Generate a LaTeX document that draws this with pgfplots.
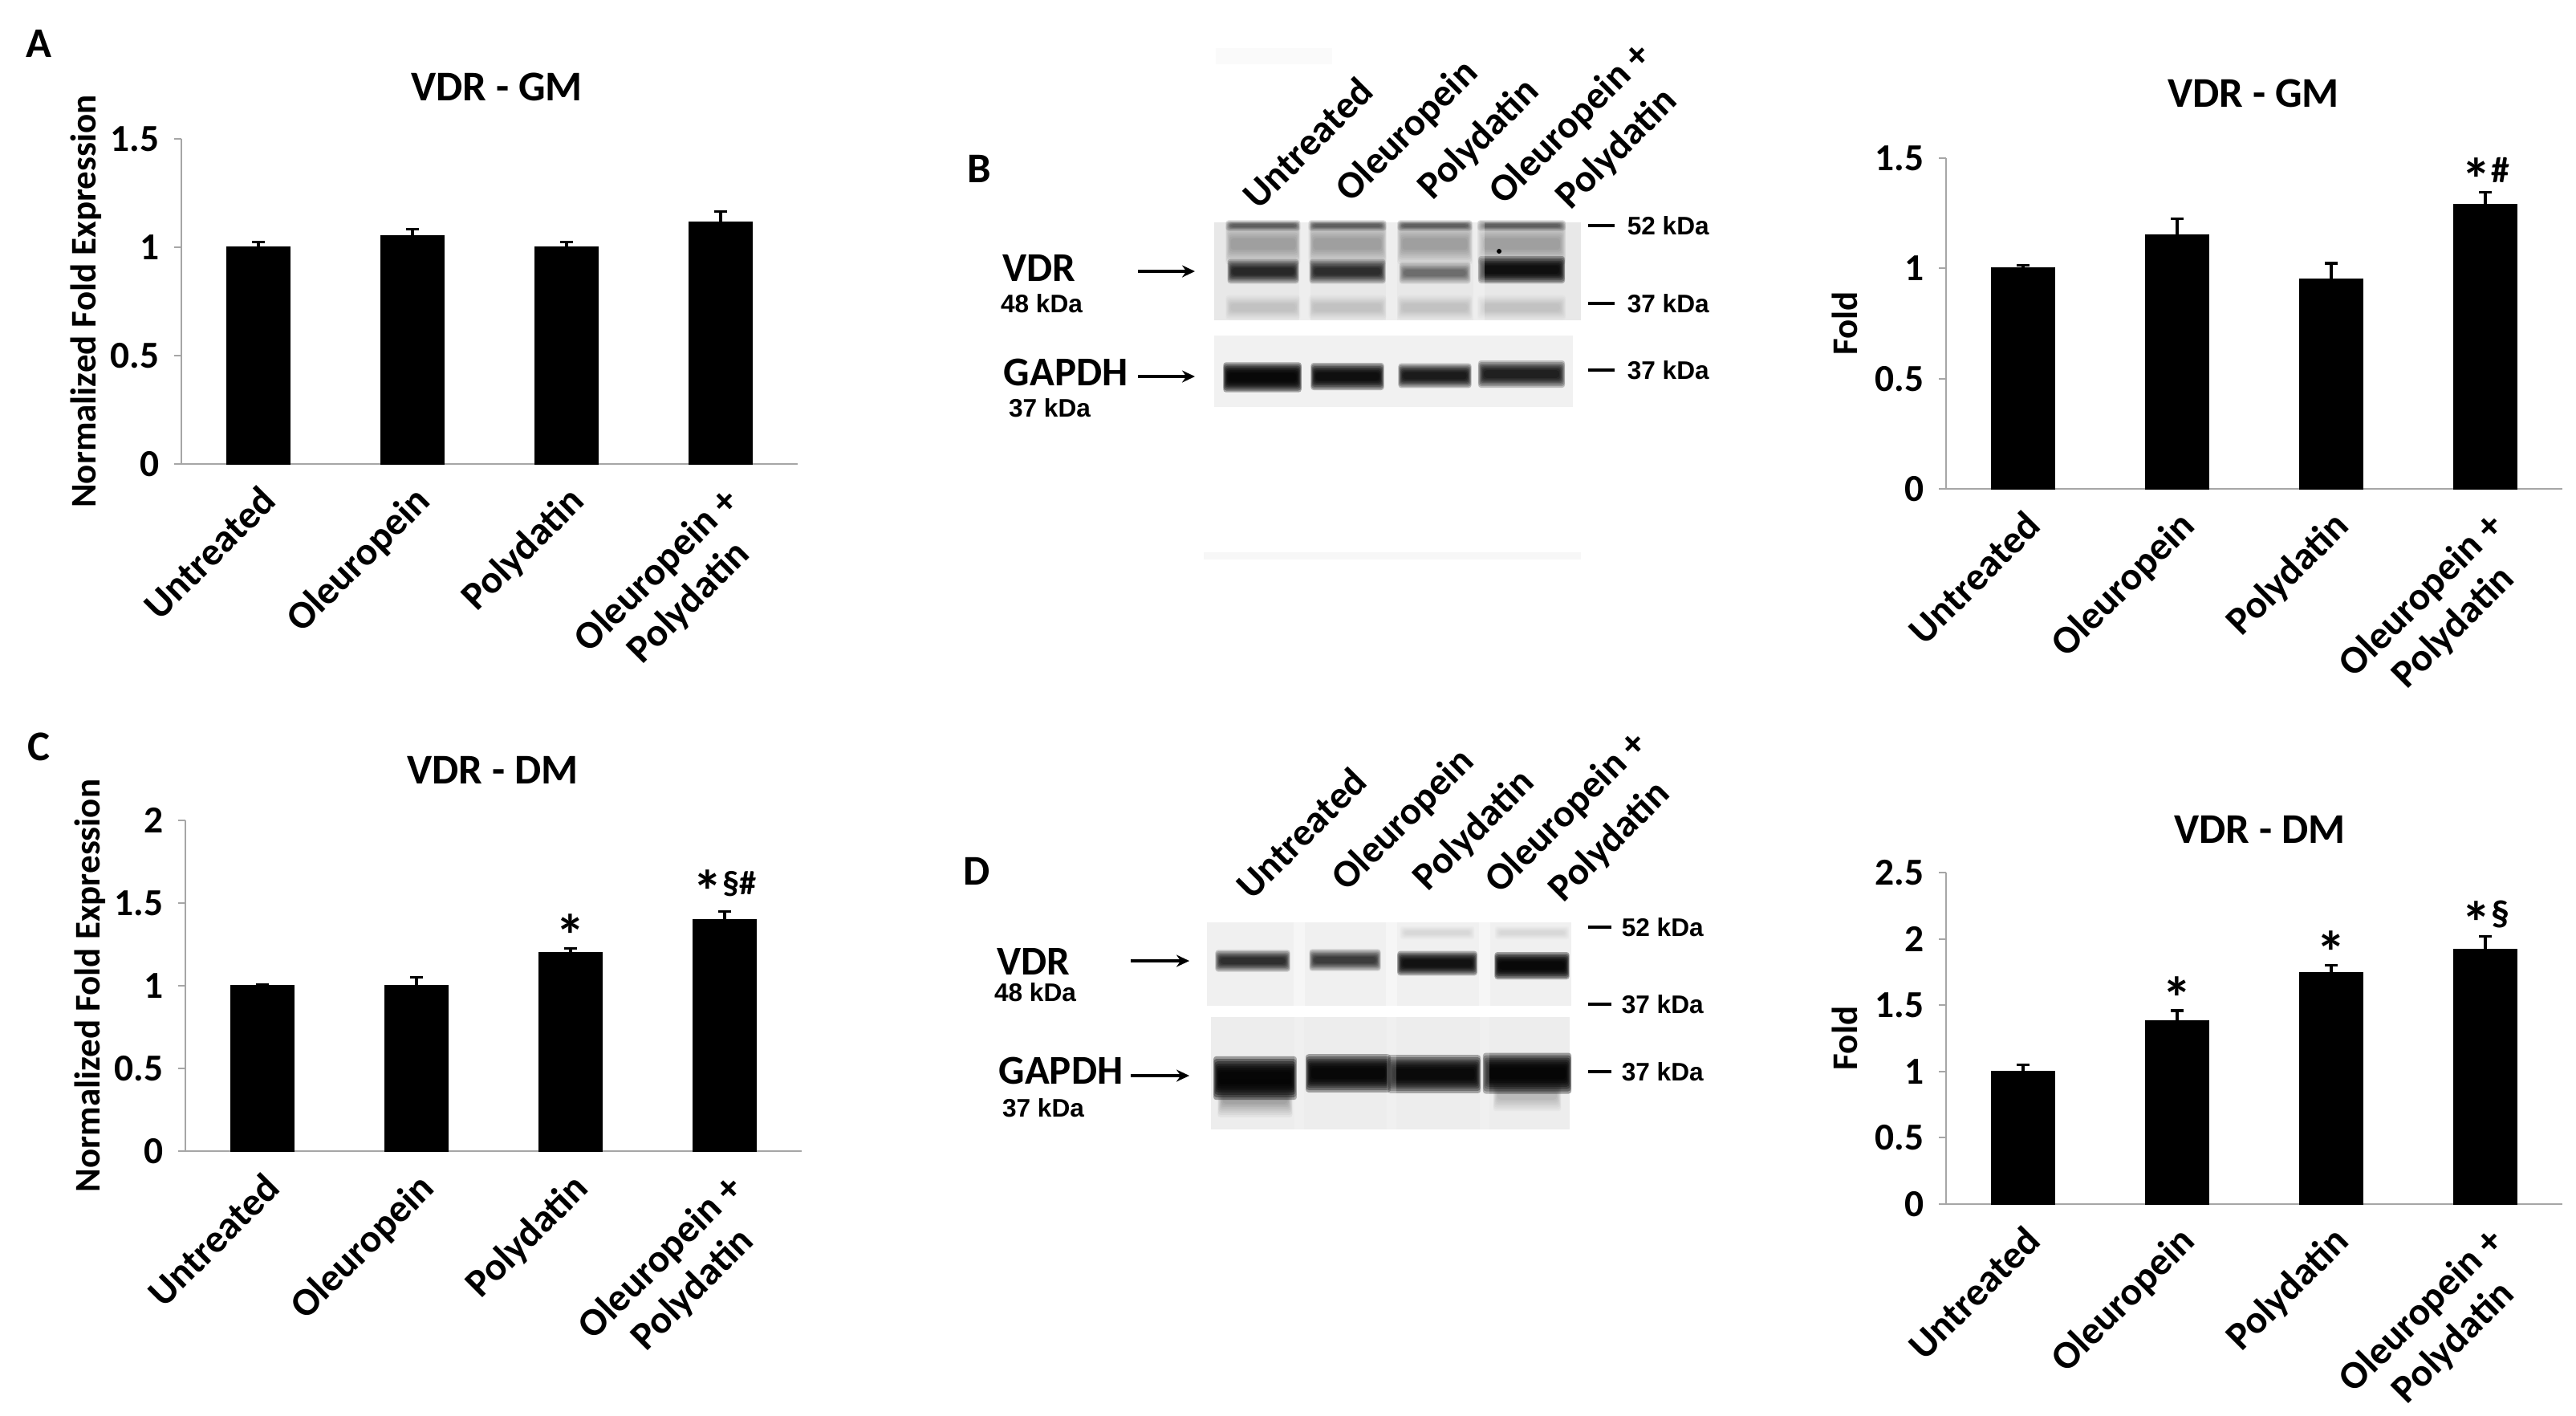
\documentclass[border=0pt]{standalone}
\usepackage{fontspec}
\setmainfont{Carlito}
\newfontfamily\arialfont{Liberation Sans}
\usepackage{pgfplots}
\pgfplotsset{compat=1.18}
\usepackage{pgfplotstable}
\usetikzlibrary{arrows.meta}

\definecolor{axgray}{HTML}{A6A6A6}
\definecolor{bgBa}{HTML}{E8E8E8}
\definecolor{bgBb}{HTML}{F1F1F1}
\definecolor{bgDa}{HTML}{F0F0F0}
\definecolor{bgDb}{HTML}{EDEDED}

\newcommand\fs[2]{\fontsize{#1}{#2}\selectfont\bfseries}
\newcommand\st{{\fontsize{21}{21}\selectfont\bfseries\raisebox{-0.3em}{*}}}

% soft blot band: stacked translucent layers
% \band{cx}{cy}{rx}{ry}{intensity 0-100}
\newcommand\band[5]{%
  \pgfmathsetmacro\bo{1-(1-min(#5,98)/100)^(1/8)}%
  \foreach \s/\t in {1.7/1.06,1.5/1.05,1.3/1.03,1.12/1.01,0.96/0.99,0.8/0.97,0.64/0.95,0.48/0.92}{%
    \fill[black, opacity=\bo, rounded corners=0.35mm] ({#1-#3*\t},{#2-#4*\s}) rectangle ({#1+#3*\t},{#2+#4*\s});%
  }}

\pgfplotstableread{
x y e
0 1.003 0.020
1 1.053 0.030
2 1.003 0.020
3 1.115 0.050
}\tabA
\pgfplotstableread{
x y e
0 1.002 0.012
1 1.150 0.076
2 0.951 0.072
3 1.291 0.053
}\tabB
\pgfplotstableread{
x y e
0 1.003 0.004
1 1.000 0.050
2 1.200 0.024
3 1.401 0.049
}\tabC
\pgfplotstableread{
x y e
0 1.003 0.047
1 1.384 0.075
2 1.744 0.059
3 1.922 0.097
}\tabD

\pgfplotsset{
  vdr/.style={
    scale only axis, width=76.8mm, xmin=-0.5, xmax=3.5, ymin=0,
    anchor=south west, clip=false,
    axis x line*=bottom, axis y line*=left,
    axis line style={draw=axgray, line width=0.6pt},
    xtick={0,1,2,3},
    xticklabels={Untreated,Oleuropein,Polydatin,{Oleuropein +\\Polydatin}},
    x tick style={draw=none},
    y tick style={draw=axgray, line width=0.6pt},
    tick align=outside, major tick length=0.9mm,
    /pgf/number format/assume math mode=true,
    yticklabel style={font=\fs{13.5}{15}, xshift=-0.6mm},
    xticklabel style={font=\fs{14}{16}, align=center, xshift=0mm, yshift=0.2mm, rotate=45, anchor=north east},
    ylabel style={font=\fs{12.8}{14}, anchor=center},
  },
  barsty/.style={ybar, bar width=7.8mm, bar shift=0pt, fill=black, draw=black,
    error bars/.cd, y dir=plus, y explicit, error mark=none,
    error bar style={line width=0.9pt, black}},
  capsty/.style={only marks, mark=-, mark size=2.4pt, mark options={line width=0.9pt, black}},
}

\begin{document}
\begin{tikzpicture}
\path[use as bounding box] (0,0) rectangle (321mm,-176.3mm);
\begin{scope}[x=0.1mm,y=-0.1mm]
% panel letters and titles
\node[font=\fs{15}{17}] at (48,54) {A};
\node[font=\fs{15}{17}] at (48,930) {C};
\node[font=\fs{15}{17}] at (1220,210) {B};
\node[font=\fs{15}{17}] at (1217,1085) {D};
\node[font=\fs{15}{17}] at (619,108) {VDR - GM};
\node[font=\fs{15}{17}] at (2808,116) {VDR - GM};
\node[font=\fs{15}{17}] at (614,959) {VDR - DM};
\node[font=\fs{15}{17}] at (2816,1033) {VDR - DM};

% ===== Blot B =====
\fill[gray!4] (1515,60) rectangle (1660,80);
\fill[gray!6] (1500,688) rectangle (1970,697);
\fill[bgBa] (1513,277) rectangle (1970,399);
\foreach \cx/\rx in {1574/44,1679/46,1788/44,1896/52} {
  \band{\cx}{281}{\rx}{4}{55}
  \band{\cx}{304}{\rx}{15}{30}
  \band{\cx}{383}{\rx}{9}{14}
}
\band{1574}{338}{42}{9}{82}
\band{1679}{338}{45}{9}{80}
\band{1788}{340}{42}{8}{52}
\band{1896}{336}{51}{10}{93}
\fill[black] (1868,313) circle (3);
\foreach \sx in {1626,1734,1843} {\fill[white, opacity=0.3] (\sx-7,277) rectangle (\sx+7,399);}
\fill[bgBb] (1513,418) rectangle (1960,507);
\band{1573}{470}{46}{11}{96}
\band{1679}{469}{43}{10}{93}
\band{1788}{468}{43}{9}{88}
\band{1896}{466}{51}{10}{86}
\node[font=\fs{14.5}{16}] at (1295,334) {VDR};
\node[font=\arialfont\fs{9}{11}] at (1298,378) {48 kDa};
\node[font=\fs{14.5}{16}] at (1328,464) {GAPDH};
\node[font=\arialfont\fs{9}{11}] at (1308,508) {37 kDa};
\draw[line width=1.2pt, -{Stealth[length=1.6mm,width=1.5mm]}] (1418,338) -- (1489,338);
\draw[line width=1.2pt, -{Stealth[length=1.6mm,width=1.5mm]}] (1418,469) -- (1489,469);
\foreach \my/\lab in {281/52 kDa,378/37 kDa,461/37 kDa} {
  \draw[line width=1.2pt] (1979,\my) -- (2012,\my);
  \node[font=\arialfont\fs{9}{11}, anchor=west, inner sep=0pt] at (2027,\my) {\lab};
}
\node[rotate=45, anchor=base west, inner sep=0pt, font=\fs{13.8}{15}] at (1568,263) {Untreated};
\node[rotate=45, anchor=base west, inner sep=0pt, font=\fs{13.8}{15}] at (1683,254) {Oleuropein};
\node[rotate=45, anchor=base west, inner sep=0pt, font=\fs{13.8}{15}] at (1785,251) {Polydatin};
\node[rotate=45, anchor=base west, inner sep=0pt, font=\fs{13.8}{15}] at (1874,257) {Oleuropein +};
\node[rotate=45, anchor=base west, inner sep=0pt, font=\fs{13.8}{15}] at (1957,263) {Polydatin};

% ===== Blot D =====
\fill[bgDa] (1504,1149) rectangle (1958,1253);
\band{1791}{1162}{44}{5}{8}
\band{1909}{1162}{44}{5}{10}
\band{1561}{1197}{44}{8}{80}
\band{1676}{1196}{42}{8}{74}
\band{1791}{1200}{47}{9}{92}
\band{1909}{1203}{44}{10}{96}
\foreach \sx in {1619,1734,1850} {\fill[white, opacity=0.45] (\sx-7,1149) rectangle (\sx+7,1253);}
\fill[bgDb] (1509,1267) rectangle (1956,1407);
\band{1564}{1368}{44}{14}{30}
\band{1903}{1364}{40}{12}{20}
\band{1564}{1343}{49}{16}{97}
\band{1680}{1337}{50}{14}{96}
\band{1787}{1338}{55}{14}{95}
\band{1903}{1337}{52}{15}{97}
\foreach \sx in {1619,1734,1850} {\fill[white, opacity=0.2] (\sx-6,1267) rectangle (\sx+6,1407);}
\node[font=\fs{14.5}{16}] at (1288,1198) {VDR};
\node[font=\arialfont\fs{9}{11}] at (1290,1236) {48 kDa};
\node[font=\fs{14.5}{16}] at (1322,1334) {GAPDH};
\node[font=\arialfont\fs{9}{11}] at (1300,1380) {37 kDa};
\draw[line width=1.2pt, -{Stealth[length=1.6mm,width=1.5mm]}] (1409,1197) -- (1482,1197);
\draw[line width=1.2pt, -{Stealth[length=1.6mm,width=1.5mm]}] (1409,1340) -- (1482,1340);
\foreach \my/\lab in {1155/52 kDa,1251/37 kDa,1335/37 kDa} {
  \draw[line width=1.2pt] (1979,\my) -- (2008,\my);
  \node[font=\arialfont\fs{9}{11}, anchor=west, inner sep=0pt] at (2020,\my) {\lab};
}
\node[rotate=45, anchor=base west, inner sep=0pt, font=\fs{13.8}{15}] at (1560,1123) {Untreated};
\node[rotate=45, anchor=base west, inner sep=0pt, font=\fs{13.8}{15}] at (1678,1112) {Oleuropein};
\node[rotate=45, anchor=base west, inner sep=0pt, font=\fs{13.8}{15}] at (1779,1112) {Polydatin};
\node[rotate=45, anchor=base west, inner sep=0pt, font=\fs{13.8}{15}] at (1869,1115) {Oleuropein +};
\node[rotate=45, anchor=base west, inner sep=0pt, font=\fs{13.8}{15}] at (1948,1126) {Polydatin};
\end{scope}

% ===== A =====
\begin{axis}[vdr, at={(22.6mm,-57.8mm)}, height=40.5mm, ymax=1.5, ytick={0,0.5,1,1.5},
  ylabel={Normalized Fold Expression}, ylabel style={at={(axis description cs:-0.155,0.5)}}]
\addplot[barsty] table[x=x, y=y, y error=e] {\tabA};
\addplot[capsty] table[x=x, y expr=\thisrow{y}+\thisrow{e}] {\tabA};
\end{axis}

% ===== B chart =====
\begin{axis}[vdr, at={(242.5mm,-60.9mm)}, height=41.2mm, ymax=1.5, ytick={0,0.5,1,1.5},
  ylabel={Fold}, ylabel style={at={(axis description cs:-0.164,0.5)}}]
\addplot[barsty] table[x=x, y=y, y error=e] {\tabB};
\addplot[capsty] table[x=x, y expr=\thisrow{y}+\thisrow{e}] {\tabB};
\node[anchor=base, inner sep=0pt] at (axis cs:3,1.389) {\st{\fs{13}{14}\#}};
\end{axis}

% ===== C =====
\begin{axis}[vdr, at={(23.1mm,-143.4mm)}, height=41.2mm, ymax=2, ytick={0,0.5,1,1.5,2},
  ylabel={Normalized Fold Expression}, ylabel style={at={(axis description cs:-0.155,0.5)}}]
\addplot[barsty] table[x=x, y=y, y error=e] {\tabC};
\addplot[capsty] table[x=x, y expr=\thisrow{y}+\thisrow{e}] {\tabC};
\node[anchor=base, inner sep=0pt] at (axis cs:2,1.286) {\st};
\node[anchor=base, inner sep=0pt] at (axis cs:3,1.553) {\st{\fs{12}{13}§\#}};
\end{axis}

% ===== D chart =====
\begin{axis}[vdr, at={(242.5mm,-150.0mm)}, height=41.3mm, ymax=2.5, ytick={0,0.5,1,1.5,2,2.5},
  ylabel={Fold}, ylabel style={at={(axis description cs:-0.164,0.5)}}]
\addplot[barsty] table[x=x, y=y, y error=e] {\tabD};
\addplot[capsty] table[x=x, y expr=\thisrow{y}+\thisrow{e}] {\tabD};
\node[anchor=base, inner sep=0pt] at (axis cs:1,1.531) {\st};
\node[anchor=base, inner sep=0pt] at (axis cs:2,1.876) {\st};
\node[anchor=base, inner sep=0pt] at (axis cs:3,2.10) {\st{\fs{13}{14}§}};
\end{axis}
\end{tikzpicture}
\end{document}
